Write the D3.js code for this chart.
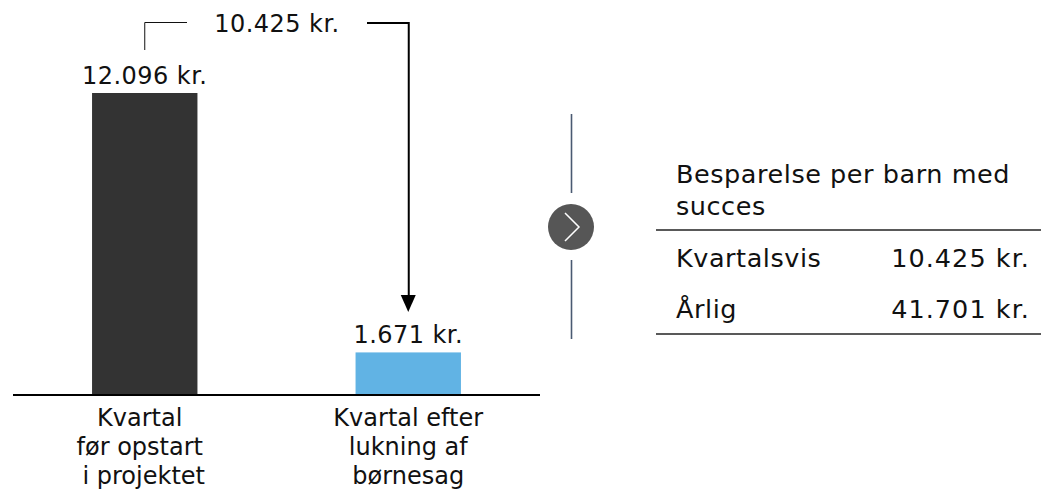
<!DOCTYPE html>
<meta charset="utf-8">
<style>
body { margin: 0; background: #fff; }
text { font-family: "DejaVu Sans", Verdana, sans-serif; font-size: 24px; fill: #111; }
.value, .difference { letter-spacing: 0.45px; }
.table-text { font-size: 25.5px; letter-spacing: 0.55px; }
.table-value { font-size: 25.5px; letter-spacing: 1.05px; }
</style>
<body>
<svg width="1041" height="489"></svg>
<script src="https://d3js.org/d3.v7.min.js"></script>
<script>

var categories = ["before", "after"];
var values = [12096, 1671];
var valueLabels = ["12.096 kr.", "1.671 kr."];
var barColors = ["#333333", "#61b3e4"];
var categoryLines = [
    ["Kvartal", "før opstart", "i projektet"],
    ["Kvartal efter", "lukning af", "børnesag"]
];
var differenceLabel = "10.425 kr.";
var tableTitle = ["Besparelse per barn med", "succes"];
var tableRows = ["Kvartalsvis", "Årlig"];
var tableValues = ["10.425 kr.", "41.701 kr."];

var svg = d3.select("svg");

var x = d3.scaleBand()
    .domain(categories)
    .range([13, 540])
    .paddingInner(0.6)
    .paddingOuter(0.3);

var y = d3.scaleLinear()
    .domain([0, 12096])
    .range([394, 93]);

svg.selectAll(".bar")
    .data(values)
    .enter().append("rect")
    .attr("class", "bar")
    .attr("x", function(d, i) { return x(categories[i]); })
    .attr("y", function(d) { return y(d); })
    .attr("width", x.bandwidth())
    .attr("height", function(d) { return y(0) - y(d); })
    .attr("fill", function(d, i) { return barColors[i]; });

// baseline
svg.append("line")
    .attr("x1", 13).attr("x2", 540)
    .attr("y1", 395).attr("y2", 395)
    .attr("stroke", "#000").attr("stroke-width", 2);

svg.selectAll(".value")
    .data(values)
    .enter().append("text")
    .attr("class", "value")
    .attr("x", function(d, i) { return x(categories[i]) + x.bandwidth() / 2; })
    .attr("y", function(d) { return y(d) - 9; })
    .attr("text-anchor", "middle")
    .text(function(d, i) { return valueLabels[i]; });

// category labels, left one sits a bit left of its bar
var labelShift = [-5, 0];
var labelLineShift = [[0, 0, 4], [0, 0, 0]];
categoryLines.forEach(function(lines, i) {
    lines.forEach(function(line, j) {
        svg.append("text")
            .attr("x", x(categories[i]) + x.bandwidth() / 2 + labelShift[i] + labelLineShift[i][j])
            .attr("y", 426 + j * 29)
            .attr("text-anchor", "middle")
            .text(line);
    });
});

// difference bracket
var midX = x("before") + x.bandwidth() / 2;
var arrowX = x("after") + x.bandwidth() / 2;

svg.append("path")
    .attr("d", d3.line()([[midX, 50], [midX, 22.5], [187, 22.5]]))
    .attr("fill", "none").attr("stroke", "#111").attr("stroke-width", 1);

svg.append("text")
    .attr("class", "difference")
    .attr("x", 277).attr("y", 32)
    .attr("text-anchor", "middle")
    .text(differenceLabel);

svg.append("path")
    .attr("d", d3.line()([[367, 23], [arrowX + 0.5, 23], [arrowX + 0.5, 296]]))
    .attr("fill", "none").attr("stroke", "#000").attr("stroke-width", 2);

svg.append("path")
    .attr("d", "M" + (arrowX - 7.5) + ",295L" + (arrowX + 7.5) + ",295L" + arrowX + ",312Z")
    .attr("fill", "#000");

// divider with chevron
svg.selectAll(".divider")
    .data([[114, 193], [260, 339]])
    .enter().append("line")
    .attr("class", "divider")
    .attr("x1", 571.5).attr("x2", 571.5)
    .attr("y1", function(d) { return d[0]; })
    .attr("y2", function(d) { return d[1]; })
    .attr("stroke", "#4a5a72").attr("stroke-width", 1.6);

svg.append("circle")
    .attr("cx", 571).attr("cy", 227).attr("r", 23)
    .attr("fill", "#565656");

svg.append("path")
    .attr("d", "M565,213L579,227L565,241")
    .attr("fill", "none").attr("stroke", "#fff").attr("stroke-width", 1.5);

// small table
tableTitle.forEach(function(line, i) {
    svg.append("text")
        .attr("class", "table-text")
        .attr("x", 676).attr("y", 183 + i * 32)
        .text(line);
});

svg.selectAll(".rule")
    .data([230, 334])
    .enter().append("line")
    .attr("class", "rule")
    .attr("x1", 656).attr("x2", 1041)
    .attr("y1", function(d) { return d; })
    .attr("y2", function(d) { return d; })
    .attr("stroke", "#222").attr("stroke-width", 1.5);

tableRows.forEach(function(row, i) {
    svg.append("text")
        .attr("class", "table-text")
        .attr("x", 676).attr("y", 267 + i * 51)
        .text(row);
    svg.append("text")
        .attr("class", "table-value")
        .attr("x", 1030).attr("y", 267 + i * 51)
        .attr("text-anchor", "end")
        .text(tableValues[i]);
});

</script>
